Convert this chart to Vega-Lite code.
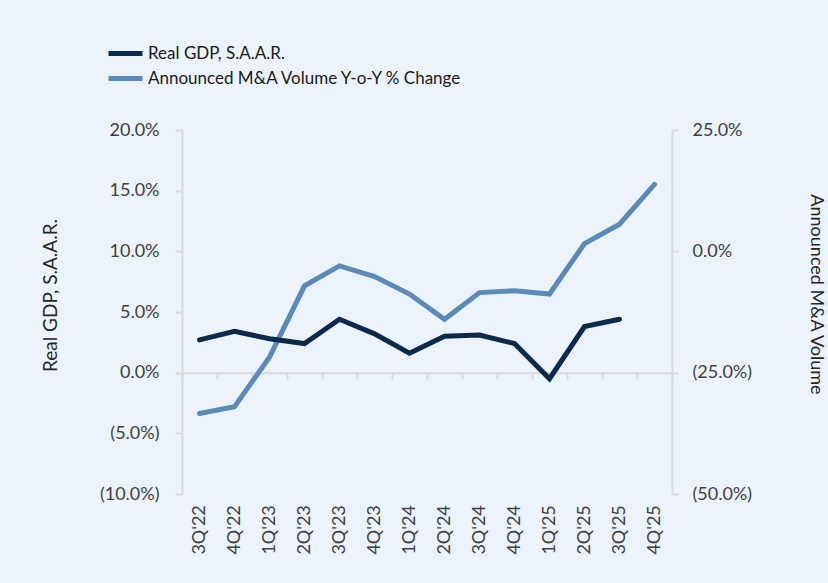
{
  "$schema": "https://vega.github.io/schema/vega-lite/v6.json",
  "width": 490,
  "height": 364,
  "autosize": "none",
  "padding": {"left": 182, "top": 130, "right": 156, "bottom": 89},
  "background": "#ecf3fa",
  "config": {
    "view": {"stroke": null},
    "font": "Lato",
    "axis": {"labelFont": "Lato", "titleFont": "Lato", "labelColor": "#404040", "titleColor": "#262626", "domainColor": "#d9d9d9", "tickColor": "#d9d9d9", "domainWidth": 2, "tickWidth": 2, "grid": false}
  },
  "data": {
    "values": [
      {"q": "3Q'22", "gdp": 2.7, "ma": -33.4},
      {"q": "4Q'22", "gdp": 3.4, "ma": -32.0},
      {"q": "1Q'23", "gdp": 2.8, "ma": -21.8},
      {"q": "2Q'23", "gdp": 2.4, "ma": -7.1},
      {"q": "3Q'23", "gdp": 4.4, "ma": -3.0},
      {"q": "4Q'23", "gdp": 3.2, "ma": -5.2},
      {"q": "1Q'24", "gdp": 1.6, "ma": -8.8},
      {"q": "2Q'24", "gdp": 3.0, "ma": -14.0},
      {"q": "3Q'24", "gdp": 3.1, "ma": -8.5},
      {"q": "4Q'24", "gdp": 2.4, "ma": -8.1},
      {"q": "1Q'25", "gdp": -0.5, "ma": -8.8},
      {"q": "2Q'25", "gdp": 3.8, "ma": 1.6},
      {"q": "3Q'25", "gdp": 4.4, "ma": 5.6},
      {"q": "4Q'25", "gdp": null, "ma": 13.8}
    ]
  },
  "encoding": {
    "x": {
      "field": "q", "type": "nominal", "sort": null,
      "scale": {"paddingInner": 0, "paddingOuter": 0},
      "axis": {"title": null, "labelAngle": -90, "labelFontSize": 18, "offset": -121.3, "tickSize": 6, "tickBand": "extent", "labelPadding": 126, "labelAlign": "right", "labelBaseline": "middle"}
    }
  },
  "layer": [
    {
      "mark": {"type": "line", "strokeWidth": 5, "strokeCap": "round", "strokeJoin": "miter"},
      "encoding": {
        "y": {"field": "ma", "type": "quantitative", "scale": {"domain": [-50, 25], "nice": false, "zero": false},
          "axis": {"orient": "right", "values": [-50, -25, 0, 25], "title": "Announced M&A Volume", "titleFontSize": 18, "titleFontWeight": "normal", "titleAngle": 90, "titleX": 143, "titleY": 164, "titleAlign": "center", "titleBaseline": "middle", "labelFontSize": 18, "tickSize": 6, "labelPadding": 14,
            "labelExpr": "datum.value < 0 ? '(' + format(-datum.value, '.1f') + '%)' : format(datum.value, '.1f') + '%'"}},
        "color": {"datum": "Announced M&A Volume Y-o-Y % Change"}
      }
    },
    {
      "mark": {"type": "line", "strokeWidth": 5, "strokeCap": "round", "strokeJoin": "miter"},
      "encoding": {
        "y": {"field": "gdp", "type": "quantitative", "scale": {"domain": [-10, 20], "nice": false, "zero": false},
          "axis": {"orient": "left", "values": [-10, -5, 0, 5, 10, 15, 20], "title": "Real GDP, S.A.A.R.", "titleFontSize": 19, "titleFontWeight": "normal", "titleAngle": -90, "titleX": -132, "titleY": 165, "titleAlign": "center", "titleBaseline": "middle", "labelFontSize": 18, "tickSize": 7, "labelPadding": 16,
            "labelExpr": "datum.value < 0 ? '(' + format(-datum.value, '.1f') + '%)' : format(datum.value, '.1f') + '%'"}},
        "color": {"datum": "Real GDP, S.A.A.R.",
          "scale": {"domain": ["Real GDP, S.A.A.R.", "Announced M&A Volume Y-o-Y % Change"], "range": ["#0a2a4b", "#5a8bb8"]},
          "legend": {"title": null, "orient": "none", "legendX": -65, "legendY": -85, "symbolType": "M-3,0H3", "symbolSize": 128, "symbolStrokeWidth": 5, "symbolFillColor": "transparent", "labelFontSize": 17, "labelColor": "#1a1a1a", "labelFont": "Lato", "labelLimit": 400, "rowPadding": 4, "labelOffset": 14}}
      }
    }
  ],
  "resolve": {"scale": {"y": "independent"}}
}
